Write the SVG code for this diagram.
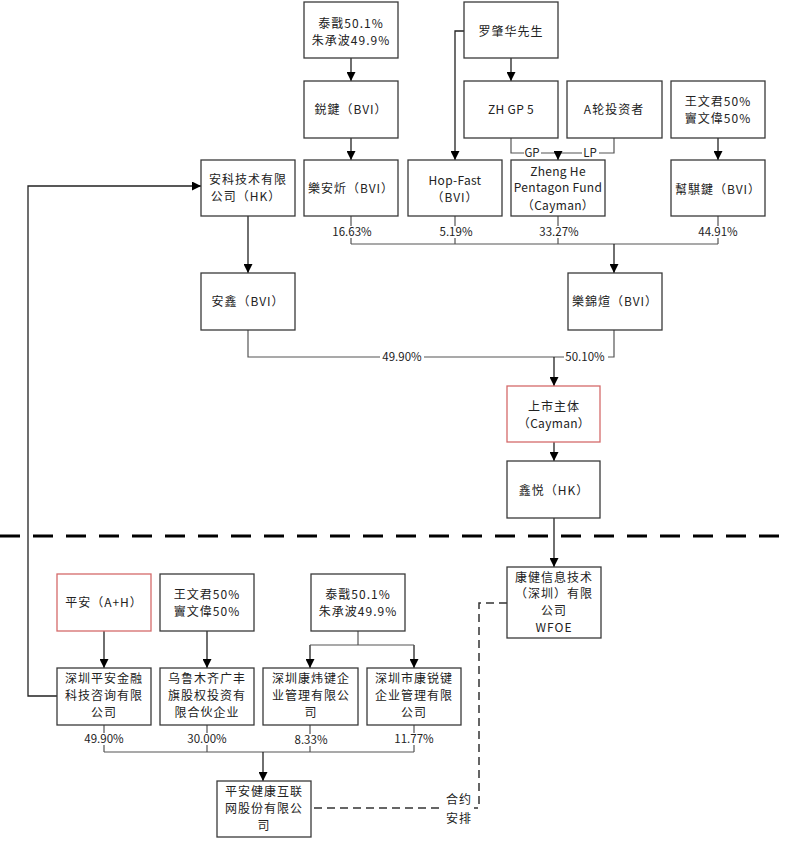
<svg xmlns="http://www.w3.org/2000/svg" width="787" height="841" viewBox="0 0 787 841">
<defs>
<marker id="arr" viewBox="0 0 10 10" refX="10" refY="5" markerWidth="9" markerHeight="9" markerUnits="userSpaceOnUse" orient="auto"><path d="M0,0 L10,5 L0,10 z" fill="#000"/></marker>
<style>
.box{fill:#fff;stroke:#3a3a3a;stroke-width:1.3}
.red{stroke:#d46a6a}
.t{font-family:"Noto Sans CJK SC","Noto Sans",sans-serif;font-size:12px;fill:#222;text-anchor:middle;letter-spacing:1px}
.l{letter-spacing:0.3px}
.p{font-family:"Noto Sans CJK SC","Noto Sans",sans-serif;font-size:11.5px;fill:#222;text-anchor:middle}
.ln{fill:none;stroke:#555;stroke-width:1.2}
.ar{fill:none;stroke:#222;stroke-width:1.3;marker-end:url(#arr)}
.bg{fill:#fff}
</style>
</defs>
<rect width="787" height="841" fill="#fff"/>

<g id="connectors">
<line class="ar" x1="351" y1="58" x2="351" y2="81"/>
<line class="ar" x1="351" y1="138" x2="351" y2="160"/>
<line class="ar" x1="511" y1="58" x2="511" y2="81"/>
<polyline class="ar" points="464,31 455,31 455,160"/>
<line class="ar" x1="718" y1="138" x2="718" y2="160"/>
<polyline class="ln" points="511,138 511,153 614,153 614,138"/>
<line class="ar" x1="558" y1="153" x2="558" y2="160"/>
<rect class="bg" x="524" y="147" width="17" height="12"/>
<rect class="bg" x="582" y="147" width="17" height="12"/>
<text class="p" x="532" y="157">GP</text>
<text class="p" x="590" y="157">LP</text>

<line class="ln" x1="351" y1="216" x2="351" y2="244"/>
<line class="ln" x1="455" y1="216" x2="455" y2="244"/>
<line class="ln" x1="558" y1="216" x2="558" y2="244"/>
<line class="ln" x1="718" y1="216" x2="718" y2="244"/>
<line class="ln" x1="351" y1="244" x2="718" y2="244"/>
<line class="ar" x1="614" y1="244" x2="614" y2="273"/>
<rect class="bg" x="330" y="226" width="44" height="12"/>
<rect class="bg" x="436" y="226" width="38" height="12"/>
<rect class="bg" x="536" y="226" width="44" height="12"/>
<rect class="bg" x="696" y="226" width="44" height="12"/>
<text class="p" x="352" y="236">16.63%</text>
<text class="p" x="456" y="236">5.19%</text>
<text class="p" x="559" y="236">33.27%</text>
<text class="p" x="718" y="236">44.91%</text>

<line class="ar" x1="248" y1="216" x2="248" y2="273"/>
<polyline class="ln" points="248,330 248,357 614,357 614,330"/>
<line class="ar" x1="554" y1="357" x2="554" y2="386"/>
<rect class="bg" x="380" y="351" width="44" height="12"/>
<rect class="bg" x="564" y="351" width="44" height="12"/>
<text class="p" x="402" y="361">49.90%</text>
<text class="p" x="585" y="361">50.10%</text>

<line class="ar" x1="554" y1="442" x2="554" y2="461"/>
<line class="ar" x1="554" y1="518" x2="554" y2="567"/>

<line x1="0" y1="536" x2="787" y2="536" stroke="#000" stroke-width="3.2" stroke-dasharray="20,13"/>

<polyline class="ar" points="57,696 28,696 28,186 201,186"/>

<line class="ar" x1="104" y1="631" x2="104" y2="668"/>
<line class="ar" x1="207" y1="631" x2="207" y2="668"/>
<polyline class="ln" points="358,631 358,645"/>
<polyline class="ar" points="310,645 310,668"/>
<polyline class="ar" points="414,645 414,668"/>
<line class="ln" x1="310" y1="645" x2="414" y2="645"/>

<line class="ln" x1="104" y1="725" x2="104" y2="752"/>
<line class="ln" x1="207" y1="725" x2="207" y2="752"/>
<line class="ln" x1="310" y1="725" x2="310" y2="752"/>
<line class="ln" x1="414" y1="725" x2="414" y2="752"/>
<line class="ln" x1="104" y1="752" x2="414" y2="752"/>
<line class="ar" x1="263" y1="752" x2="263" y2="781"/>
<rect class="bg" x="82" y="733" width="44" height="12"/>
<rect class="bg" x="185" y="733" width="44" height="12"/>
<rect class="bg" x="292" y="734" width="38" height="12"/>
<rect class="bg" x="392" y="733" width="44" height="12"/>
<text class="p" x="104" y="743">49.90%</text>
<text class="p" x="207" y="743">30.00%</text>
<text class="p" x="311" y="744">8.33%</text>
<text class="p" x="414" y="743">11.77%</text>

<polyline fill="none" stroke="#333" stroke-width="1.5" stroke-dasharray="8,5" points="507,603 479,603 479,808 311,808"/>
<rect class="bg" x="444" y="791" width="30" height="36"/>
<text class="t" x="459" y="804">合约</text>
<text class="t" x="459" y="823">安排</text>
</g>

<g id="n1"><rect class="box" x="304" y="2" width="94" height="56"/><text class="t" x="351" y="28">泰戬50.1%</text><text class="t" x="351" y="45">朱承波49.9%</text></g>
<g id="n2"><rect class="box" x="464" y="2" width="94" height="56"/><text class="t" x="511" y="36">罗肇华先生</text></g>
<g id="n3"><rect class="box" x="304" y="81" width="94" height="57"/><text class="t" x="351" y="114">鋭鍵（BVI）</text></g>
<g id="n4"><rect class="box" x="464" y="81" width="94" height="57"/><text class="t l" x="511" y="114">ZH GP 5</text></g>
<g id="n5"><rect class="box" x="567" y="81" width="95" height="57"/><text class="t" x="614" y="114">A轮投资者</text></g>
<g id="n6"><rect class="box" x="671" y="81" width="94" height="57"/><text class="t" x="718" y="106">王文君50%</text><text class="t" x="718" y="123">竇文偉50%</text></g>
<g id="n7"><rect class="box" x="201" y="160" width="94" height="56"/><text class="t" x="248" y="184">安科技术有限</text><text class="t" x="246" y="201">公司（HK）</text></g>
<g id="n8"><rect class="box" x="304" y="160" width="94" height="56"/><text class="t" x="351" y="193">樂安炘（BVI）</text></g>
<g id="n9"><rect class="box" x="408" y="160" width="94" height="56"/><text class="t l" x="455" y="185">Hop-Fast</text><text class="t" x="455" y="202">（BVI）</text></g>
<g id="n10"><rect class="box" x="511" y="160" width="94" height="56"/><text class="t l" x="558" y="176">Zheng He</text><text class="t l" x="558" y="192">Pentagon Fund</text><text class="t l" x="558" y="210">（Cayman）</text></g>
<g id="n11"><rect class="box" x="671" y="160" width="94" height="56"/><text class="t" x="718" y="194">幫騏鍵（BVI）</text></g>
<g id="n12"><rect class="box" x="201" y="273" width="94" height="57"/><text class="t" x="248" y="306">安鑫（BVI）</text></g>
<g id="n13"><rect class="box" x="568" y="273" width="94" height="57"/><text class="t" x="615" y="306">樂錦煊（BVI）</text></g>
<g id="n14"><rect class="box red" x="507" y="386" width="93" height="56"/><text class="t" x="554" y="411">上市主体</text><text class="t l" x="554" y="428">（Cayman）</text></g>
<g id="n15"><rect class="box" x="507" y="461" width="93" height="57"/><text class="t" x="554" y="495">鑫悦（HK）</text></g>
<g id="n16"><rect class="box" x="507" y="567" width="94" height="71"/><text class="t" x="554" y="582">康健信息技术</text><text class="t" x="554" y="598">（深圳）有限</text><text class="t" x="554" y="615">公司</text><text class="t" x="554" y="632">WFOE</text></g>
<g id="n17"><rect class="box red" x="57" y="574" width="94" height="57"/><text class="t" x="104" y="607">平安（A+H）</text></g>
<g id="n18"><rect class="box" x="160" y="574" width="94" height="57"/><text class="t" x="207" y="599">王文君50%</text><text class="t" x="207" y="616">竇文偉50%</text></g>
<g id="n19"><rect class="box" x="311" y="574" width="94" height="57"/><text class="t" x="358" y="599">泰戬50.1%</text><text class="t" x="358" y="616">朱承波49.9%</text></g>
<g id="n20"><rect class="box" x="57" y="668" width="94" height="57"/><text class="t" x="104" y="683">深圳平安金融</text><text class="t" x="104" y="700">科技咨询有限</text><text class="t" x="104" y="717">公司</text></g>
<g id="n21"><rect class="box" x="160" y="668" width="94" height="57"/><text class="t" x="207" y="683">乌鲁木齐广丰</text><text class="t" x="207" y="700">旗股权投资有</text><text class="t" x="207" y="717">限合伙企业</text></g>
<g id="n22"><rect class="box" x="263" y="668" width="95" height="57"/><text class="t" x="311" y="683">深圳康炜键企</text><text class="t" x="311" y="700">业管理有限公</text><text class="t" x="311" y="717">司</text></g>
<g id="n23"><rect class="box" x="367" y="668" width="94" height="57"/><text class="t" x="414" y="683">深圳市康锐键</text><text class="t" x="414" y="700">企业管理有限</text><text class="t" x="414" y="717">公司</text></g>
<g id="n24"><rect class="box" x="217" y="781" width="94" height="56"/><text class="t" x="264" y="796">平安健康互联</text><text class="t" x="264" y="813">网股份有限公</text><text class="t" x="264" y="830">司</text></g>
</svg>
